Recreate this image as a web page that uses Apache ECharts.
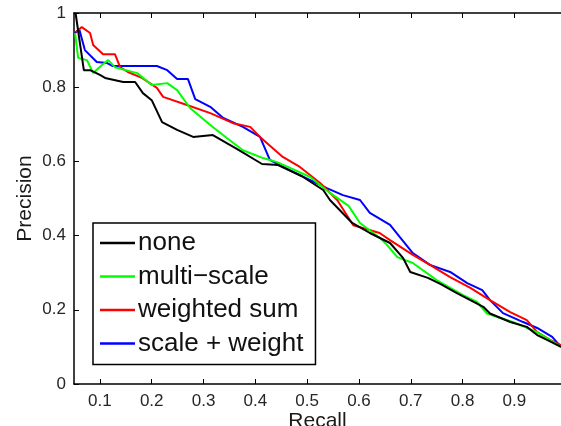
<!DOCTYPE html>
<html>
<head>
<meta charset="utf-8">
<script src="https://cdn.jsdelivr.net/npm/echarts@6/dist/echarts.min.js"></script>
<style>
html,body{margin:0;padding:0;background:#fff;}
#chart{width:561px;height:426px;}
</style>
</head>
<body>
<div id="chart"></div>
<script>
var xTicks = [0.1,0.2,0.3,0.4,0.5,0.6,0.7,0.8,0.9];
var yTicks = [0,0.2,0.4,0.6,0.8,1];
var seriesNames = ['none','multi\u2212scale','weighted sum','scale + weight'];

var noneRecall =    [0.053,0.069,0.081,0.100,0.110,0.145,0.168,0.183,0.200,0.220,0.249,0.280,0.318,0.365,0.413,0.444,0.490,0.531,0.544,0.587,0.621,0.660,0.685,0.699,0.733,0.757,0.789,0.815,0.840,0.853,0.892,0.924,0.944,0.963,0.990];
var nonePrecision = [1.000,0.846,0.846,0.833,0.825,0.814,0.814,0.784,0.765,0.706,0.685,0.666,0.671,0.633,0.593,0.590,0.560,0.523,0.496,0.434,0.407,0.380,0.340,0.302,0.286,0.270,0.245,0.226,0.208,0.190,0.167,0.154,0.132,0.119,0.100];

var msRecall =    [0.052,0.058,0.075,0.087,0.104,0.116,0.129,0.172,0.200,0.230,0.249,0.274,0.313,0.345,0.376,0.415,0.442,0.506,0.544,0.580,0.602,0.640,0.654,0.674,0.704,0.750,0.800,0.828,0.847,0.897,0.944,0.990];
var msPrecision = [0.946,0.879,0.873,0.838,0.860,0.873,0.854,0.838,0.806,0.811,0.792,0.744,0.698,0.663,0.630,0.609,0.598,0.558,0.515,0.480,0.434,0.394,0.375,0.342,0.326,0.280,0.240,0.221,0.190,0.167,0.140,0.100];

var wsRecall =    [0.054,0.065,0.081,0.087,0.106,0.129,0.139,0.154,0.181,0.210,0.222,0.268,0.313,0.357,0.390,0.409,0.453,0.486,0.525,0.558,0.589,0.640,0.660,0.704,0.737,0.776,0.815,0.853,0.892,0.924,0.944,0.969,0.990];
var wsPrecision = [0.949,0.962,0.946,0.914,0.889,0.889,0.854,0.841,0.825,0.798,0.774,0.752,0.730,0.703,0.693,0.666,0.612,0.585,0.542,0.496,0.428,0.407,0.388,0.348,0.321,0.288,0.259,0.226,0.194,0.172,0.140,0.119,0.105];

var swRecall =    [0.052,0.060,0.071,0.094,0.114,0.125,0.172,0.210,0.230,0.249,0.270,0.284,0.313,0.338,0.376,0.409,0.428,0.447,0.486,0.538,0.569,0.602,0.621,0.660,0.679,0.704,0.737,0.776,0.809,0.838,0.853,0.878,0.917,0.944,0.973,0.990];
var swPrecision = [0.946,0.957,0.900,0.868,0.865,0.857,0.857,0.857,0.846,0.822,0.822,0.768,0.747,0.717,0.693,0.666,0.604,0.590,0.563,0.528,0.509,0.496,0.461,0.429,0.396,0.353,0.321,0.302,0.272,0.253,0.226,0.191,0.167,0.151,0.127,0.100];

var seriesColors = ['#000000','#00ff00','#ff0000','#0000ff'];

function zip(a,b){ return a.map(function(v,i){ return [v,b[i]]; }); }
var allData = [zip(noneRecall,nonePrecision), zip(msRecall,msPrecision), zip(wsRecall,wsPrecision), zip(swRecall,swPrecision)];

var FONT = '"Liberation Sans", Arial, Helvetica, sans-serif';
var chart = echarts.init(document.getElementById('chart'), null, {renderer:'canvas'});

var axisLineStyle = {color:'#000', width:1.5};
chart.setOption({
  animation:false,
  backgroundColor:'#fff',
  grid:{left:74, top:13, right:0, bottom:42, containLabel:false, outerBoundsMode:'none'},
  xAxis:[{
    type:'value', min:0.05, max:0.99, position:'bottom',
    name:'Recall', nameLocation:'middle', nameGap:27, nameMoveOverlap:false,
    nameTextStyle:{fontFamily:FONT, fontSize:21, color:'#1a1a1a', verticalAlign:'top'},
    axisLine:{show:true, onZero:false, lineStyle:axisLineStyle},
    axisTick:{show:true, inside:true, length:5, customValues:xTicks, lineStyle:{color:'#000', width:1}},
    axisLabel:{show:true, customValues:xTicks, margin:9, fontFamily:FONT, fontSize:17, color:'#262626',
      formatter:function(v){ return v.toFixed(1); }},
    splitLine:{show:false}
  },{
    type:'value', min:0.05, max:0.99, position:'top',
    axisLine:{show:true, onZero:false, lineStyle:axisLineStyle},
    axisTick:{show:true, inside:true, length:5, customValues:xTicks, lineStyle:{color:'#000', width:1}},
    axisLabel:{show:false},
    splitLine:{show:false}
  }],
  yAxis:[{
    type:'value', min:0, max:1, interval:0.2, position:'left',
    name:'Precision', nameLocation:'middle', nameGap:38, nameRotate:90, nameMoveOverlap:false,
    nameTextStyle:{fontFamily:FONT, fontSize:21, color:'#1a1a1a'},
    axisLine:{show:true, onZero:false, lineStyle:axisLineStyle},
    axisTick:{show:true, inside:true, length:5, lineStyle:{color:'#000', width:1}},
    axisLabel:{show:true, margin:8, fontFamily:FONT, fontSize:17, color:'#262626',
      formatter:function(v){ return (v===0||v===1) ? String(v) : v.toFixed(1); }},
    splitLine:{show:false}
  }],
  legend:{
    show:true, orient:'vertical', left:93, top:223,
    backgroundColor:'#fff', borderColor:'#000', borderWidth:1.5,
    padding:[7,12,8,7], itemGap:7.5, itemWidth:35, itemHeight:2.5,
    icon:'rect',
    textStyle:{fontFamily:FONT, fontSize:26, color:'#111', lineHeight:26, padding:[0,0,0,-2]},
    data:seriesNames
  },
  series:seriesNames.map(function(n,i){
    return {
      name:n, type:'line', xAxisIndex:0, yAxisIndex:0,
      data:allData[i], showSymbol:false, symbol:'none',
      color:seriesColors[i],
      lineStyle:{color:seriesColors[i], width:2},
      z: 10 - i
    };
  })
});
</script>
</body>
</html>
